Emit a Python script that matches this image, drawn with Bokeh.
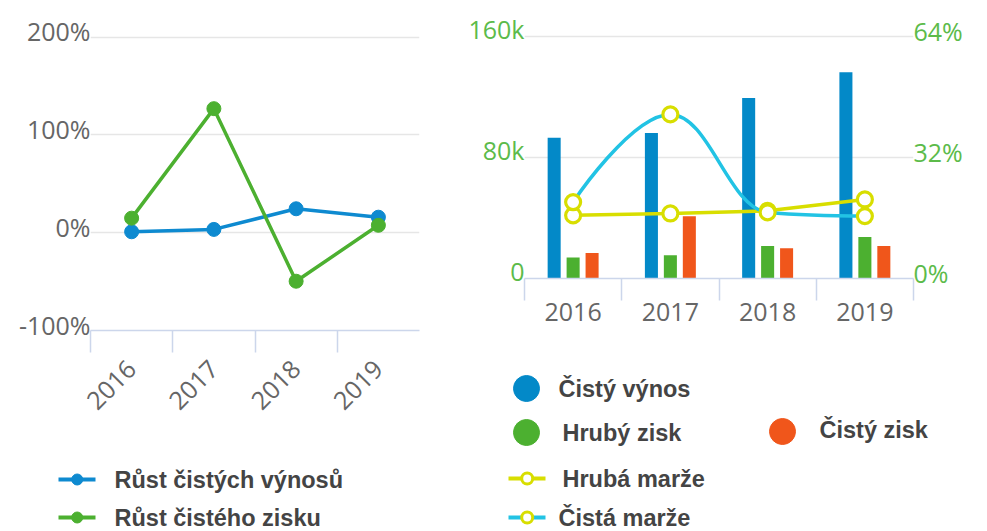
import math
from bokeh.plotting import figure
from bokeh.models import Range1d, LinearAxis, FixedTicker, Grid, ColumnDataSource
from bokeh.layouts import row, column
from bokeh.embed import file_html
from bokeh.resources import INLINE
from bokeh.core.properties import value

# ---------------- data ----------------
years = ["2016", "2017", "2018", "2019"]

# left chart (growth, %)
rust_vynosu = [1.0, 3.4, 24.5, 15.9]
rust_zisku = [14.9, 126.9, -49.6, 7.6]
left_ticks = [-100, 0, 100, 200]
left_tick_labels = ["-100%", "0%", "100%", "200%"]
left_names = ["Růst čistých výnosů", "Růst čistého zisku"]

# right chart (amounts and margins)
cisty_vynos = [93100, 96200, 119300, 136300]
hruby_zisk = [13900, 15400, 21500, 27500]
cisty_zisk = [16900, 41100, 20000, 21500]
hruba_marze = [16.7, 17.2, 17.9, 20.9]
cista_marze = [20.2, 43.4, 17.5, 16.5]
amount_ticks = [0, 80000, 160000]
amount_tick_labels = ["0", "80k", "160k"]
pct_ticks = [0, 32, 64]
pct_tick_labels = ["0%", "32%", "64%"]
bar_names = ["Čistý výnos", "Hrubý zisk", "Čistý zisk"]
margin_names = ["Hrubá marže", "Čistá marže"]

# ---------------- styles ----------------
C_BLUE_LINE = "#0e8ad0"
C_GREEN = "#4cb030"
C_BLUE_BAR = "#0389c8"
C_ORANGE = "#f0561b"
C_YELLOW = "#d8de00"
C_CYAN = "#22c3e4"
C_GRAY_TXT = "#666666"
C_GREEN_TXT = "#5cbb4a"
C_GRID = "#e6e6e6"
C_AXIS = "#ccd6eb"
C_LEG_TXT = "#444444"
AX_FONT = "Open Sans"
AX_SIZE = "25px"
LEG_FONT = value("Liberation Sans")
LEG_SIZE = "23.5px"

PAGE_W, PAGE_H = 987, 531

n = len(years)
xs = [i + 0.5 for i in range(n)]
centers_labels = {x: y for x, y in zip(xs, years)}


def strip(p):
    p.outline_line_color = None
    p.background_fill_color = "white"
    p.border_fill_color = "white"
    p.center = [r for r in p.center if not isinstance(r, Grid)]


# ---------------- left chart ----------------
LW, LH = 440, 440
L_LEFT, L_RIGHT, L_TOP, L_FRAME_BOTTOM = 90, 21, 25, 330
l_frame_h = L_FRAME_BOTTOM - L_TOP
l_gap = 11.7  # px between frame top and top gridline
l_upp = (left_ticks[-1] - left_ticks[0]) / (l_frame_h - l_gap)
l_end = left_ticks[-1] + l_gap * l_upp
l_shift = 6 * l_upp

p1 = figure(width=LW, height=LH, x_range=Range1d(0, n), y_range=Range1d(left_ticks[0], l_end),
            output_backend="svg", toolbar_location=None,
            x_axis_location=None, y_axis_location=None,
            min_border_left=L_LEFT, min_border_right=L_RIGHT, min_border_top=L_TOP,
            min_border_bottom=LH - L_FRAME_BOTTOM)
p1.frame_align = False
strip(p1)
p1.add_layout(Grid(dimension=1, ticker=FixedTicker(ticks=left_ticks),
                   grid_line_color=C_GRID, grid_line_width=1.5))
p1.extra_y_ranges = {"lab": Range1d(left_ticks[0] - l_shift, l_end - l_shift)}
ya = LinearAxis(y_range_name="lab", ticker=FixedTicker(ticks=left_ticks),
                major_label_overrides={t: s for t, s in zip(left_ticks, left_tick_labels)},
                axis_line_color=None, major_tick_line_color=None, minor_tick_line_color=None,
                major_tick_out=0, major_tick_in=0, major_label_standoff=0,
                major_label_text_font=AX_FONT, major_label_text_font_size=AX_SIZE,
                major_label_text_color=C_GRAY_TXT)
p1.add_layout(ya, "left")
xa = LinearAxis(ticker=FixedTicker(ticks=xs, minor_ticks=list(range(n))),
                major_label_overrides=centers_labels,
                axis_line_color=C_AXIS, axis_line_width=1.5,
                major_tick_line_color=None, major_tick_out=0, major_tick_in=0,
                minor_tick_line_color=C_AXIS, minor_tick_line_width=1.5,
                minor_tick_out=22, minor_tick_in=0,
                major_label_standoff=12, major_label_orientation=math.pi / 4,
                major_label_text_font=AX_FONT, major_label_text_font_size=AX_SIZE,
                major_label_text_color=C_GRAY_TXT)
p1.add_layout(xa, "below")

for vals, col in ((rust_vynosu, C_BLUE_LINE), (rust_zisku, C_GREEN)):
    p1.line(xs, vals, line_color=col, line_width=3.5)
    p1.scatter(xs, vals, size=14, fill_color=col, line_color=col)

# ---------------- right chart ----------------
RW, RH = PAGE_W - LW, 355
R_LEFT, R_RIGHT, R_TOP, R_FRAME_BOTTOM = 84, 74, 21, 278
r_frame_h = R_FRAME_BOTTOM - R_TOP
r_gap = 15
a_upp = amount_ticks[-1] / (r_frame_h - r_gap)
a_end = amount_ticks[-1] + r_gap * a_upp
p_upp = pct_ticks[-1] / (r_frame_h - r_gap)
p_end = pct_ticks[-1] + r_gap * p_upp

p2 = figure(width=RW, height=RH, x_range=Range1d(0, n), y_range=Range1d(0, a_end),
            output_backend="svg", toolbar_location=None,
            x_axis_location=None, y_axis_location=None,
            min_border_left=R_LEFT, min_border_right=R_RIGHT, min_border_top=R_TOP,
            min_border_bottom=RH - R_FRAME_BOTTOM)
p2.frame_align = False
strip(p2)
p2.extra_y_ranges = {
    "pct": Range1d(0, p_end),
    "amt_lab": Range1d(-8 * a_upp, a_end - 8 * a_upp),
    "pct_lab": Range1d(-6 * p_upp, p_end - 6 * p_upp),
}
p2.add_layout(Grid(dimension=1, ticker=FixedTicker(ticks=amount_ticks[1:]),
                   grid_line_color=C_GRID, grid_line_width=1.5))
for rng, ticks, labels, side in (("amt_lab", amount_ticks, amount_tick_labels, "left"),
                                 ("pct_lab", pct_ticks, pct_tick_labels, "right")):
    ax = LinearAxis(y_range_name=rng, ticker=FixedTicker(ticks=ticks),
                    major_label_overrides={t: s for t, s in zip(ticks, labels)},
                    axis_line_color=None, major_tick_line_color=None, minor_tick_line_color=None,
                    major_tick_out=0, major_tick_in=0, major_label_standoff=0,
                    major_label_text_font=AX_FONT, major_label_text_font_size=AX_SIZE,
                    major_label_text_color=C_GREEN_TXT)
    p2.add_layout(ax, side)
xb = LinearAxis(ticker=FixedTicker(ticks=xs, minor_ticks=list(range(n + 1))),
                major_label_overrides=centers_labels,
                axis_line_color=C_AXIS, axis_line_width=1.5,
                major_tick_line_color=None, major_tick_out=0, major_tick_in=0,
                minor_tick_line_color=C_AXIS, minor_tick_line_width=1.5,
                minor_tick_out=22, minor_tick_in=0,
                major_label_standoff=2,
                major_label_text_font=AX_FONT, major_label_text_font_size=AX_SIZE,
                major_label_text_color=C_GRAY_TXT)
p2.add_layout(xb, "below")

BAR_OFF, BAR_W = 0.195, 0.134
for k, (vals, col) in enumerate(((cisty_vynos, C_BLUE_BAR), (hruby_zisk, C_GREEN), (cisty_zisk, C_ORANGE))):
    off = (k - 1) * BAR_OFF
    p2.vbar(x=[x + off for x in xs], top=vals, bottom=0, width=BAR_W,
            fill_color=col, line_color=None)

# Hrubá marže: straight line
p2.line(xs, hruba_marze, line_color=C_YELLOW, line_width=3.5, y_range_name="pct")
p2.scatter(xs, hruba_marze, size=15, fill_color="white", line_color=C_YELLOW,
           line_width=3.2, y_range_name="pct")


# Čistá marže: spline (Highcharts-style control points derived from the data)
def spline_segments(x, y, smoothing=1.5):
    m = len(x)
    lc = [(x[i], y[i]) for i in range(m)]
    rc = [(x[i], y[i]) for i in range(m)]
    den = smoothing + 1
    for i in range(1, m - 1):
        px, py = x[i], y[i]
        lx, ly = x[i - 1], y[i - 1]
        nx, ny = x[i + 1], y[i + 1]
        lcx = (smoothing * px + lx) / den
        lcy = (smoothing * py + ly) / den
        rcx = (smoothing * px + nx) / den
        rcy = (smoothing * py + ny) / den
        corr = ((rcy - lcy) * (rcx - px)) / (rcx - lcx) + py - rcy
        lcy += corr
        rcy += corr
        if lcy > ly and lcy > py:
            lcy = max(ly, py); rcy = 2 * py - lcy
        elif lcy < ly and lcy < py:
            lcy = min(ly, py); rcy = 2 * py - lcy
        if rcy > ny and rcy > py:
            rcy = max(ny, py); lcy = 2 * py - rcy
        elif rcy < ny and rcy < py:
            rcy = min(ny, py); lcy = 2 * py - rcy
        lc[i] = (lcx, lcy)
        rc[i] = (rcx, rcy)
    seg = dict(x0=[], y0=[], x1=[], y1=[], cx0=[], cy0=[], cx1=[], cy1=[])
    for i in range(1, m):
        seg["x0"].append(x[i - 1]); seg["y0"].append(y[i - 1])
        seg["x1"].append(x[i]); seg["y1"].append(y[i])
        seg["cx0"].append(rc[i - 1][0]); seg["cy0"].append(rc[i - 1][1])
        seg["cx1"].append(lc[i][0]); seg["cy1"].append(lc[i][1])
    return seg


src = ColumnDataSource(spline_segments(xs, cista_marze))
p2.bezier(x0="x0", y0="y0", x1="x1", y1="y1", cx0="cx0", cy0="cy0", cx1="cx1", cy1="cy1",
          source=src, line_color=C_CYAN, line_width=3.5, y_range_name="pct")
p2.scatter(xs, cista_marze, size=15, fill_color="white", line_color=C_YELLOW,
           line_width=3.2, y_range_name="pct")


# ---------------- legends ----------------
def legend_canvas(w, h):
    q = figure(width=w, height=h, x_range=Range1d(0, w), y_range=Range1d(h, 0),
               output_backend="svg", toolbar_location=None,
               x_axis_location=None, y_axis_location=None,
               min_border=0, min_border_left=0, min_border_right=0,
               min_border_top=0, min_border_bottom=0)
    q.frame_align = False
    strip(q)
    return q


def leg_text(q, x, y, t):
    q.text(x=[x], y=[y], text=[t], text_font=LEG_FONT, text_font_style="bold",
           text_font_size=LEG_SIZE, text_color=C_LEG_TXT,
           text_align="left", text_baseline="middle")


LLW, LLH = LW, PAGE_H - LH
q1 = legend_canvas(LLW, LLH)
for (yy, name, col) in ((39, left_names[0], C_BLUE_LINE), (77, left_names[1], C_GREEN)):
    q1.segment(x0=[58], x1=[95], y0=[yy], y1=[yy], line_color=col, line_width=4)
    q1.scatter(x=[76.7], y=[yy], size=11, fill_color=col, line_color=col)
    leg_text(q1, 114, yy, name)

RLW, RLH = RW, PAGE_H - RH
q2 = legend_canvas(RLW, RLH)
for (cx, cy, tx, ty, name, col) in ((86, 33, 118, 33, bar_names[0], C_BLUE_BAR),
                                    (86, 77, 122, 77, bar_names[1], C_GREEN),
                                    (342, 76, 379, 74, bar_names[2], C_ORANGE)):
    q2.scatter(x=[cx], y=[cy], size=26, fill_color=col, line_color=col)
    leg_text(q2, tx, ty, name)
for (yy, tx, name, col) in ((123, 122, margin_names[0], C_YELLOW),
                            (162, 118, margin_names[1], C_CYAN)):
    q2.segment(x0=[68], x1=[105], y0=[yy], y1=[yy], line_color=col, line_width=4)
    q2.scatter(x=[86.7], y=[yy], size=11, fill_color="white", line_color=C_YELLOW, line_width=3)
    leg_text(q2, tx, yy, name)

layout = row(column(p1, q1), column(p2, q2))
open("out.html", "w").write(file_html(layout, INLINE, title="chart"))
